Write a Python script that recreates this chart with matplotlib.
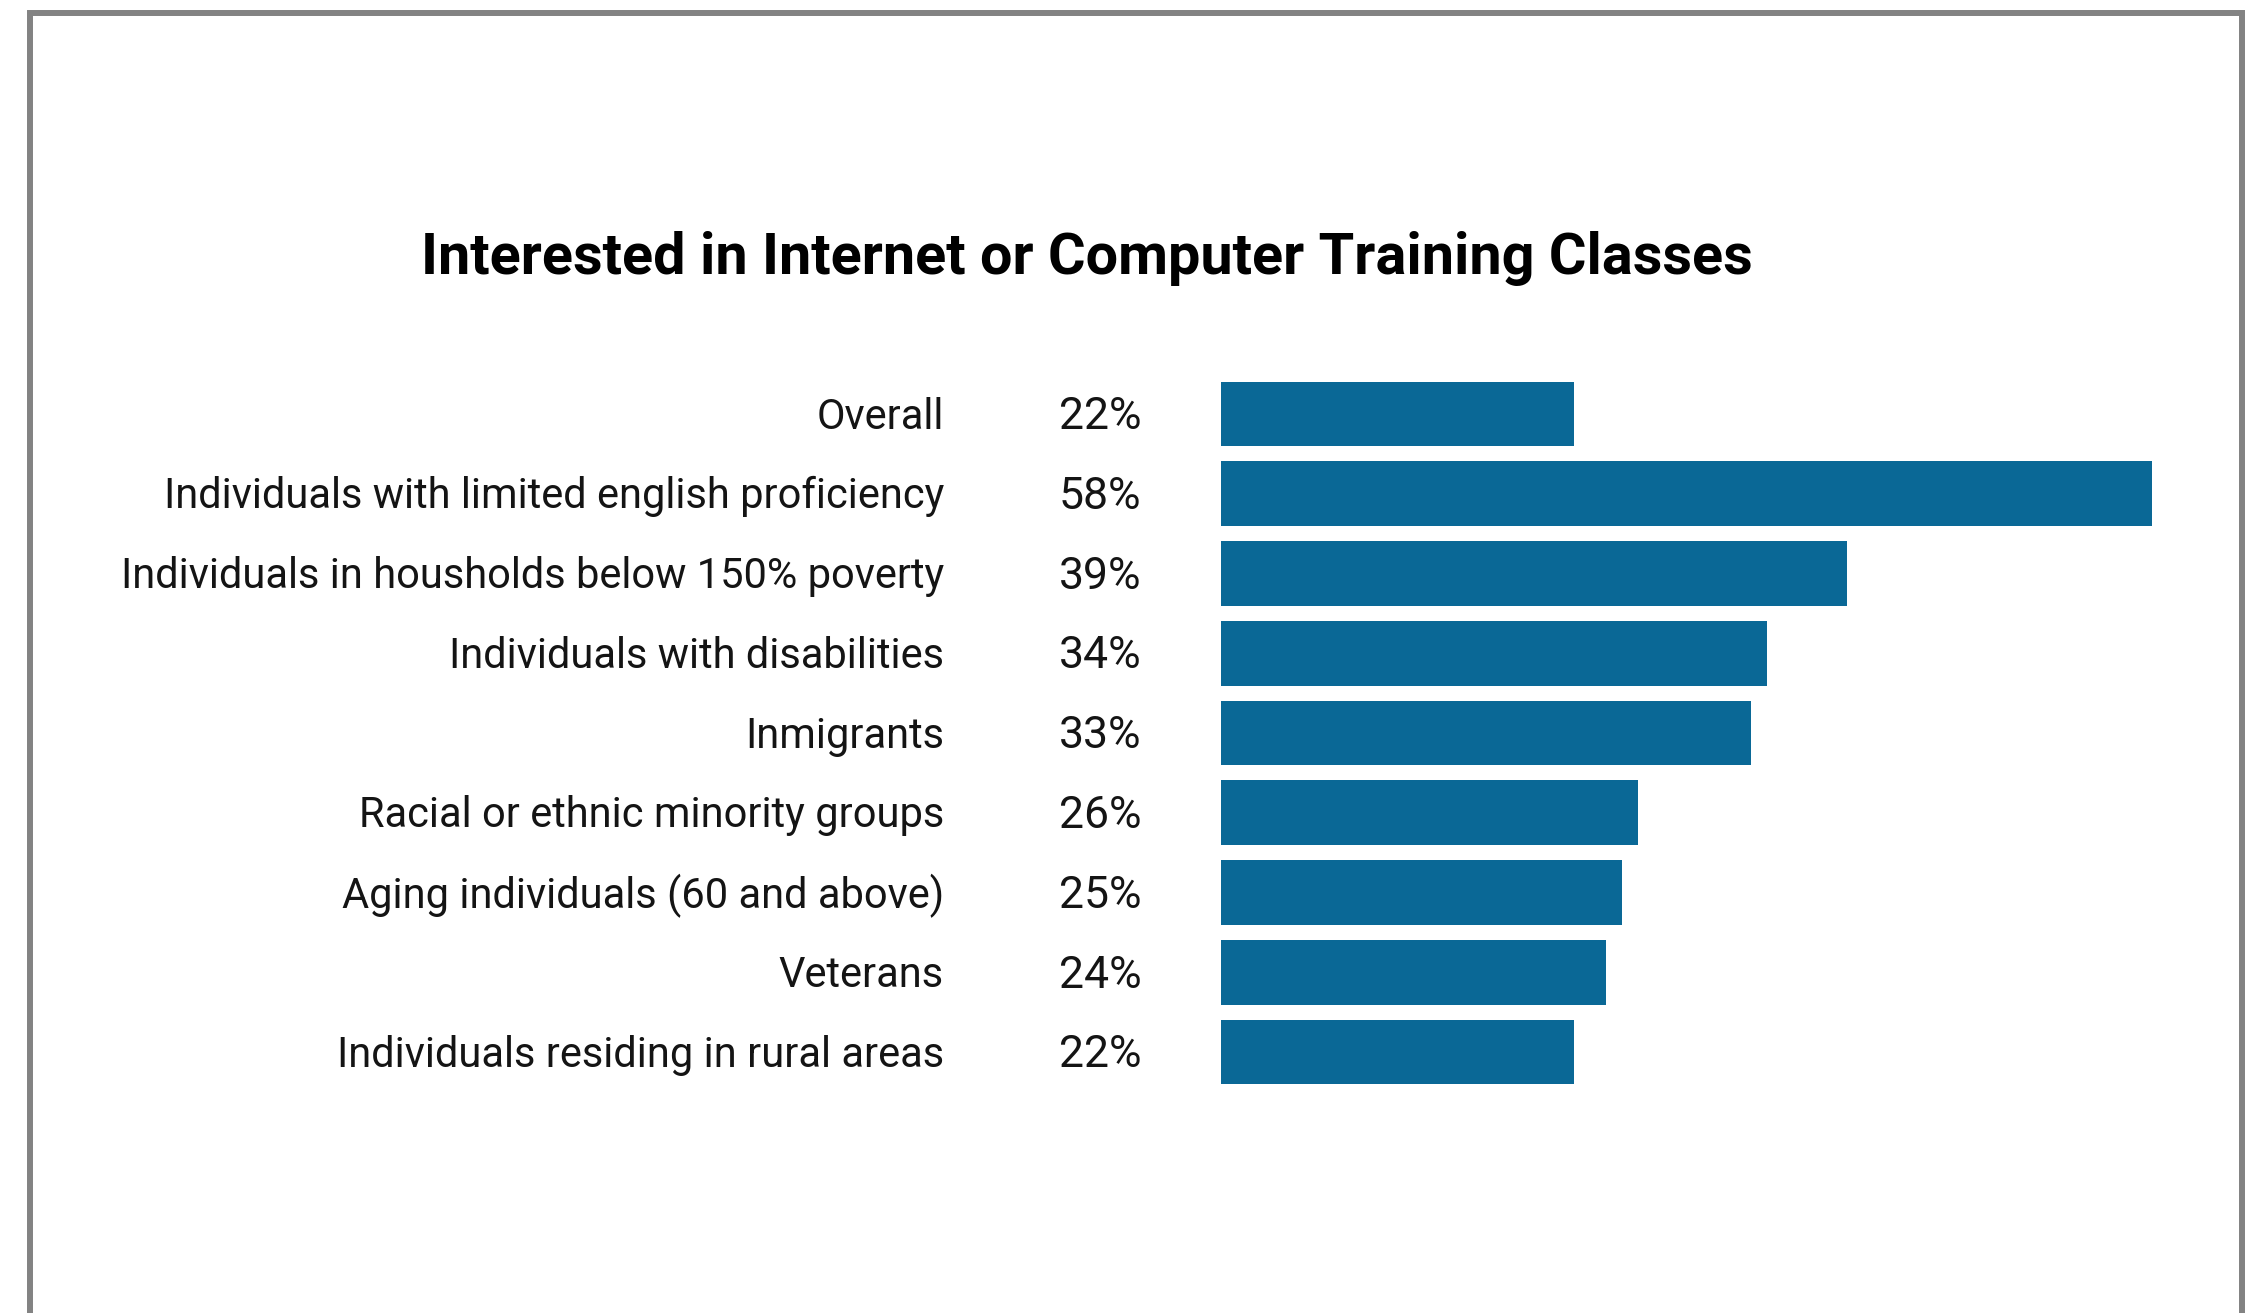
import matplotlib.pyplot as plt
import matplotlib.transforms as mtransforms
from matplotlib.lines import Line2D

plt.rcParams['font.family'] = ['Roboto', 'DejaVu Sans']

categories = ['Overall',
              'Individuals with limited english proficiency',
              'Individuals in housholds below 150% poverty',
              'Individuals with disabilities',
              'Inmigrants',
              'Racial or ethnic minority groups',
              'Aging individuals (60 and above)',
              'Veterans',
              'Individuals residing in rural areas']
values = [22, 58, 39, 34, 33, 26, 25, 24, 22]
value_labels = [str(v) + '%' for v in values]
title = 'Interested in Internet or Computer Training Classes'

bar_color = '#0a6896'
text_color = '#141414'

W, H = 2254, 1313
fig = plt.figure(figsize=(W / 100, H / 100), dpi=100)
fig.patch.set_facecolor('white')

# grey frame (open at the bottom)
frame_col = '#838383'
xl, xr, yt = 30 / W, 2242 / W, 1 - 13 / H
fig.add_artist(Line2D([xl, xl, xr, xr], [0, yt, yt, 0], color=frame_col, lw=4.3,
                      solid_joinstyle='miter', transform=fig.transFigure))

ax = fig.add_axes([1221 / W, 1 - 1092 / H, 963 / W, 718 / H])
ypos = list(range(len(categories)))
ax.barh(ypos, values, height=0.81, color=bar_color)
ax.set_xlim(0, 60)
ax.set_ylim(len(categories) - 0.5, -0.5)
ax.axis('off')

tr = mtransforms.blended_transform_factory(fig.transFigure, ax.transData)
for y, name, lab in zip(ypos, categories, value_labels):
    ax.text(944 / W, y + 0.04, name, transform=tr, ha='right', va='center',
            fontsize=30, color=text_color, clip_on=False)
    ax.text(1059 / W, y + 0.04, lab, transform=tr, ha='left', va='center',
            fontsize=32, color=text_color, clip_on=False)

fig.text(1087 / W, 1 - 258 / H, title, ha='center', va='center',
         fontsize=41.5, fontweight='bold', color='black')

fig.savefig('out.png', dpi=100, facecolor='white')
